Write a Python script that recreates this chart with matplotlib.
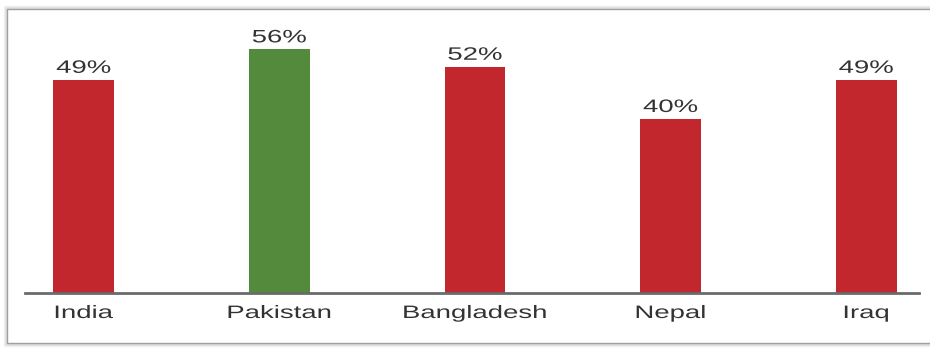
import matplotlib.pyplot as plt
from matplotlib import patheffects
from matplotlib.patches import Rectangle
from matplotlib.transforms import Affine2D

# ----------------------------------------------------------------------------------------------------------------------
# data
countries = ['India', 'Pakistan', 'Bangladesh', 'Nepal', 'Iraq']
shares = [49, 56, 52, 40, 49]
highlight = 'Pakistan'

color_red = '#c1272d'
color_green = '#548a3c'
color_text = '#333333'
# ----------------------------------------------------------------------------------------------------------------------

plt.rcParams['font.family'] = ['Liberation Sans', 'DejaVu Sans']
text_size = 12.96    # points (18 px em at 100 dpi)
text_stretch = 1.53  # labels are drawn horizontally widened


# path effect that widens the rendered text around its own centre
class Widen(patheffects.AbstractPathEffect):
    def __init__(self, sx):
        super().__init__()
        self.sx = sx

    def draw_path(self, renderer, gc, tpath, affine, rgbFace=None):
        ext = tpath.get_extents(affine)
        cx = (ext.x0 + ext.x1) / 2
        aff = affine + Affine2D().translate(-cx, 0).scale(self.sx, 1).translate(cx, 0)
        renderer.draw_path(gc, tpath, aff, rgbFace)


widen = [Widen(text_stretch)]

fig = plt.figure(figsize=(9.3, 3.48), dpi=100)
W, H = 930.0, 348.0

# outer frame with soft shadow
for off, alpha in [(3, 0.05), (2, 0.08), (1, 0.12)]:
    fig.patches.append(Rectangle(((7 - off) / W, (348 - 343 - off) / H), (940 - 7) / W, (343 - 9 + 2 * off) / H,
                                 transform=fig.transFigure, fill=False, edgecolor='black',
                                 linewidth=1, alpha=alpha, zorder=0))
fig.patches.append(Rectangle((7 / W, (348 - 343) / H), (940 - 7) / W, (343 - 9) / H,
                             transform=fig.transFigure, fill=False, edgecolor='#a0a0a0',
                             linewidth=1, zorder=0))

ax = fig.add_axes([25 / W, (348 - 293) / H, (919 - 25) / W, (293 - 15) / H])
ax.patch.set_alpha(0)

x = list(range(len(countries)))
colors = [color_green if c == highlight else color_red for c in countries]
bars = ax.bar(x, shares, width=0.31, color=colors, zorder=2)

ax.set_xlim(-0.3, 4.27)
ax.set_ylim(0, 63.9)
ax.set_xticks([])
ax.set_yticks([])
for side in ['left', 'right', 'top']:
    ax.spines[side].set_visible(False)
ax.spines['bottom'].set_color('#6a6a6a')
ax.spines['bottom'].set_linewidth(2)
ax.spines['bottom'].set_zorder(3)

# value labels above the bars and country names under the baseline
for b, v, name in zip(bars, shares, countries):
    xc = b.get_x() + b.get_width() / 2
    ax.annotate(f'{v}%', (xc, v), xytext=(0, 7), textcoords='offset pixels',
                ha='center', va='baseline', fontsize=text_size, color=color_text,
                path_effects=widen)
    ax.annotate(name, (xc, 0), xytext=(0, -25), textcoords='offset pixels',
                ha='center', va='baseline', fontsize=text_size, color=color_text,
                path_effects=widen, annotation_clip=False)

fig.savefig('out.png', dpi=100)
